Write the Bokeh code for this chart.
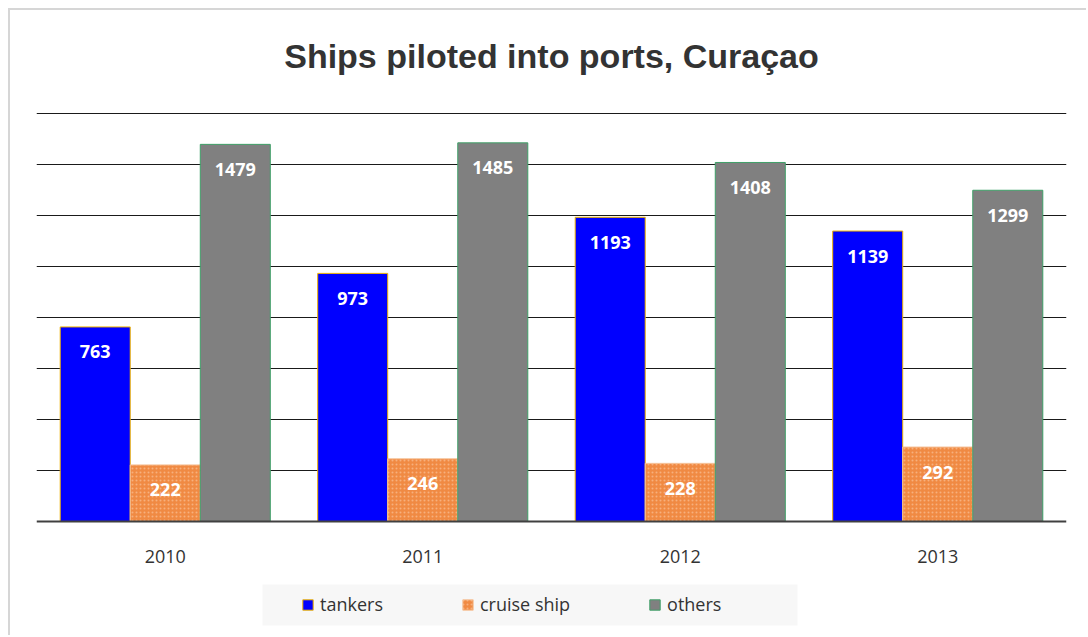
from bokeh.plotting import figure
from bokeh.models import (ColumnDataSource, FactorRange, Range1d, FixedTicker, LabelSet,
                          Legend, LegendItem, Span, BoxAnnotation, Label)
from bokeh.transform import dodge
from bokeh.core.properties import value
from bokeh.embed import file_html
from bokeh.resources import INLINE

title_text = "Ships piloted into ports, Curaçao"
years = ["2010", "2011", "2012", "2013"]
tankers = [763, 973, 1193, 1139]
cruise = [222, 246, 228, 292]
others = [1479, 1485, 1408, 1299]
grid_ticks = [200, 400, 600, 800, 1000, 1200, 1400, 1600]

src = ColumnDataSource(dict(year=years, tankers=tankers, cruise=cruise, others=others,
                            tl=[str(v) for v in tankers], cl=[str(v) for v in cruise],
                            ol=[str(v) for v in others]))
cat_src = ColumnDataSource(dict(year=years, base=[0] * len(years)))

# frame covers the full height so title and legend (drawn inside the frame) are not clipped
p = figure(x_range=FactorRange(*years, range_padding=0), y_range=Range1d(-455, 2004),
           width=1078, height=627, output_backend="svg", toolbar_location=None,
           min_border_left=26, min_border_right=22, min_border_top=0, min_border_bottom=0)
p.styles = {"border-left": "2px solid #d6d6d6", "border-top": "2px solid #d6d6d6",
            "margin-left": "8px", "margin-top": "8px"}

p.outline_line_color = None
p.background_fill_color = "white"

p.add_layout(Label(x=515, y=582, x_units="screen", y_units="screen", text=title_text,
                   text_align="center", text_baseline="alphabetic",
                   text_font="Liberation Sans", text_font_style="bold",
                   text_font_size="34px", text_color="#333333"))

# legend background panel (frame-relative screen units, y measured from frame bottom)
p.add_layout(BoxAnnotation(left=226, right=761, top=53, bottom=12,
                           left_units="screen", right_units="screen",
                           top_units="screen", bottom_units="screen",
                           fill_color="#f7f7f7", fill_alpha=1, line_color=None,
                           level="underlay"))

w = 0.272
r1 = p.vbar(x=dodge("year", -w, range=p.x_range), top="tankers", width=w, source=src,
            fill_color="#0000ff", line_color="#f0b400", line_width=1)
r2 = p.vbar(x=dodge("year", 0, range=p.x_range), top="cruise", width=w, source=src,
            fill_color="#f08a43", line_color="#f6c49c", line_width=1,
            hatch_pattern="dot", hatch_color="#f9b98c", hatch_scale=4, hatch_alpha=0.8)
r3 = p.vbar(x=dodge("year", w, range=p.x_range), top="others", width=w, source=src,
            fill_color="#808080", line_color="#3fa068", line_width=1)

for col, lab, off in (("tankers", "tl", -w), ("cruise", "cl", 0), ("others", "ol", w)):
    p.add_layout(LabelSet(x=dodge("year", off, range=p.x_range), y=col, text=lab, source=src,
                          y_offset=-25, text_align="center", text_baseline="middle",
                          text_color="white", text_font=value("Open Sans"),
                          text_font_style="bold", text_font_size="18px"))

# baseline and category labels
p.add_layout(Span(location=0, dimension="width", line_color="#404040", line_width=2))
p.add_layout(LabelSet(x="year", y="base", text="year", source=cat_src, y_offset=-35,
                      text_align="center", text_baseline="middle", text_color="#333333",
                      text_font=value("Open Sans"), text_font_size="18px"))

p.xaxis.visible = False
p.yaxis.visible = False
p.yaxis.ticker = FixedTicker(ticks=grid_ticks)
p.ygrid.ticker = FixedTicker(ticks=grid_ticks)
p.ygrid.grid_line_color = "#1a1a1a"
p.ygrid.grid_line_width = 1
p.xgrid.grid_line_color = None

legend = Legend(items=[LegendItem(label="tankers", renderers=[r1]),
                       LegendItem(label="cruise ship", renderers=[r2]),
                       LegendItem(label="others", renderers=[r3])],
                orientation="horizontal", location=(265, 21),
                glyph_width=13, glyph_height=13, label_standoff=6, spacing=78,
                padding=10, label_text_font="Open Sans", label_text_font_size="18px",
                label_text_color="#333333", background_fill_alpha=0,
                border_line_color=None)
p.add_layout(legend, "center")

open("out.html", "w").write(file_html(p, INLINE))
